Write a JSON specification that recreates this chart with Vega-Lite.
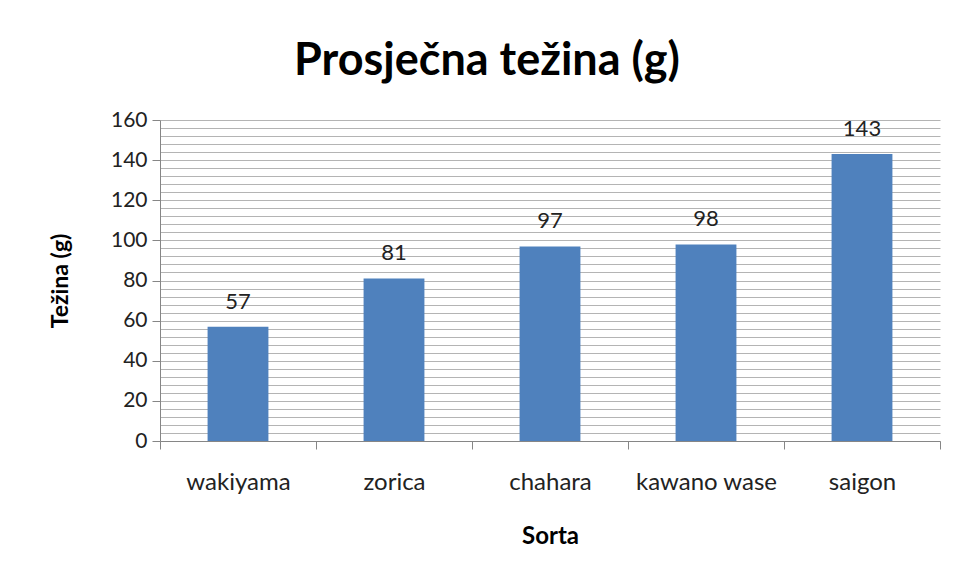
{
  "$schema": "https://vega.github.io/schema/vega-lite/v6.json",
  "autosize": "none",
  "padding": {"left": 160, "top": 120, "right": 20, "bottom": 141},
  "width": 780,
  "height": 321,
  "background": "white",
  "title": {
    "text": "Prosječna težina (g)",
    "font": "Lato",
    "fontSize": 45,
    "fontWeight": "bold",
    "color": "#000000",
    "anchor": "middle",
    "frame": "group",
    "baseline": "alphabetic",
    "offset": -11,
    "dx": -63
  },
  "data": {
    "values": [
      {"sorta": "wakiyama", "tezina": 57},
      {"sorta": "zorica", "tezina": 81},
      {"sorta": "chahara", "tezina": 97},
      {"sorta": "kawano wase", "tezina": 98},
      {"sorta": "saigon", "tezina": 143}
    ]
  },
  "config": {
    "view": {"stroke": null},
    "font": "Lato"
  },
  "encoding": {
    "x": {
      "field": "sorta",
      "type": "nominal",
      "sort": null,
      "title": "Sorta",
      "scale": {"paddingInner": 0, "paddingOuter": 0},
      "axis": {
        "labelAngle": 0,
        "labelFont": "Lato",
        "labelFontSize": 24,
        "labelColor": "#222222",
        "labelPadding": 21,
        "tickBand": "extent",
        "tickSize": 8,
        "tickColor": "#868686",
        "domainColor": "#868686",
        "titleFont": "Lato",
        "titleFontSize": 24,
        "titleFontWeight": "bold",
        "titleColor": "#000000",
        "titlePadding": 30
      }
    },
    "y": {
      "field": "tezina",
      "type": "quantitative",
      "title": "Težina (g)",
      "scale": {"domain": [0, 160], "nice": false},
      "axis": {
        "values": [0, 4, 8, 12, 16, 20, 24, 28, 32, 36, 40, 44, 48, 52, 56, 60, 64, 68, 72, 76, 80, 84, 88, 92, 96, 100, 104, 108, 112, 116, 120, 124, 128, 132, 136, 140, 144, 148, 152, 156, 160],
        "labelExpr": "datum.value % 20 === 0 ? datum.label : ''",
        "tickOpacity": {"expr": "datum.value % 20 === 0 ? 1 : 0"},
        "tickSize": 8,
        "tickColor": "#868686",
        "domainColor": "#868686",
        "grid": true,
        "gridColor": "#b4b4b4",
        "gridWidth": 1,
        "labelFont": "Lato",
        "labelFontSize": 21,
        "labelColor": "#222222",
        "labelPadding": 5,
        "titleFont": "Lato",
        "titleFontSize": 23,
        "titleFontWeight": "bold",
        "titleColor": "#000000",
        "titlePadding": 38
      }
    }
  },
  "layer": [
    {
      "mark": {"type": "bar", "color": "#4F81BD", "width": {"band": 0.39}}
    },
    {
      "mark": {"type": "text", "font": "Lato", "fontSize": 22, "color": "#222222", "baseline": "alphabetic", "dy": -18},
      "encoding": {"text": {"field": "tezina", "type": "quantitative"}}
    }
  ]
}
